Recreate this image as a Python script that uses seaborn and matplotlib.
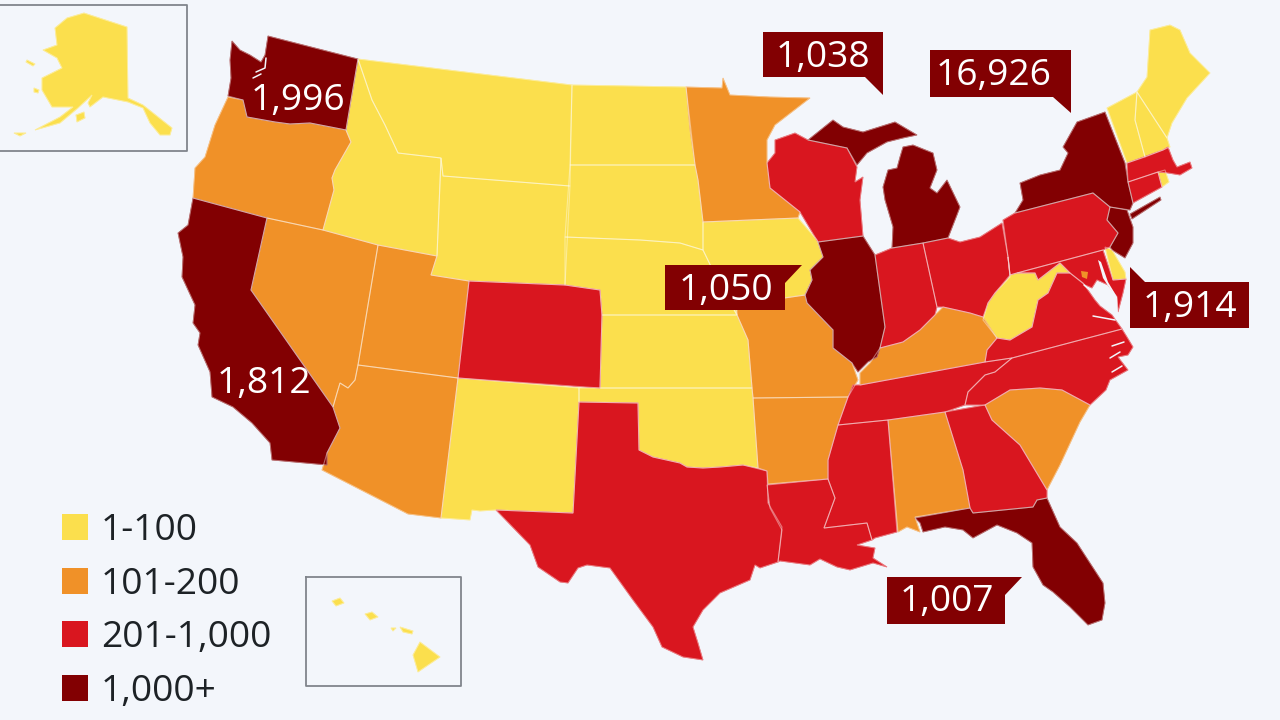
import matplotlib
matplotlib.use('Agg')
import matplotlib.pyplot as plt
import pandas as pd
import seaborn as sns

# state outlines in image pixels (x, y)
wa = [(232,41),(240,50),(250,55),(261,62),(265,55),(268,36),(358,59),(346,130),(310,123),(290,124),(275,122),(247,117),(243,100),(228,96),(231,78),(230,60)]
or_ = [(228,97),(243,100),(247,117),(275,122),(290,124),(310,123),(346,130),(351,142),(335,170),(332,178),(334,190),(323,230),(267,218),(193,198),(195,168),(205,157),(215,125)]
ca = [(193,198),(267,218),(251,290),(333,407),(340,428),(327,453),(327,465),(272,460),(270,443),(252,423),(233,407),(212,397),(210,372),(198,345),(200,333),(193,323),(195,305),(182,277),(183,257),(178,233),(188,225)]
nv = [(267,218),(323,230),(378,245),(358,365),(355,380),(348,388),(340,383),(337,393),(333,407),(251,290)]
id_ = [(358,59),(372,100),(385,125),(398,153),(441,158),(437,256),(378,245),(323,230),(334,190),(332,178),(335,170),(351,142),(346,130)]
mt = [(358,59),(572,85),(570,186),(443,176),(441,158),(398,153),(385,125),(372,100)]
wy = [(443,176),(570,186),(565,285),(469,281),(431,275),(437,256),(441,158)]
ut = [(378,245),(437,256),(431,275),(469,281),(458,378),(358,365)]
co = [(469,281),(565,285),(600,290),(602,315),(600,388),(458,378)]
az = [(358,365),(458,378),(441,518),(408,514),(322,470),(327,453),(340,428),(333,407),(337,393),(340,383),(348,388),(355,380)]
nm = [(458,378),(579,388),(579,402),(573,513),(496,510),(480,511),(472,510),(470,520),(441,518)]
nd = [(572,85),(686,87),(695,165),(570,165)]
sd = [(570,165),(695,165),(698,180),(703,222),(703,250),(680,243),(640,240),(565,237)]
ne = [(565,237),(640,240),(680,243),(703,250),(720,285),(737,315),(602,315),(600,290),(565,285)]
ks = [(602,315),(737,315),(748,340),(752,388),(600,388)]
ok = [(579,388),(752,388),(753,398),(758,468),(743,465),(720,467),(703,468),(687,467),(680,463),(653,457),(639,450),(638,403),(579,402)]
tx = [(579,402),(638,403),(639,450),(653,457),(680,463),(687,467),(703,468),(720,467),(743,465),(767,471),(768,503),(782,527),(778,562),(760,568),(755,565),(750,580),(720,593),(703,610),(693,627),(698,643),(703,660),(683,657),(662,647),(653,627),(633,600),(610,568),(587,565),(578,568),(568,583),(560,582),(538,567),(530,545),(496,510),(573,513)]
mn = [(686,87),(722,88),(723,78),(730,95),(770,97),(810,98),(775,125),(767,140),(767,163),(770,188),(800,212),(798,218),(703,222),(698,180),(695,165),(690,130)]
ia = [(703,222),(798,218),(817,240),(823,257),(810,270),(812,280),(805,295),(735,305),(737,315),(720,285),(703,250)]
mo = [(737,305),(805,295),(807,303),(833,330),(833,348),(852,363),(858,380),(848,397),(753,398),(752,388),(748,340),(737,315)]
ar = [(753,398),(848,397),(838,425),(828,460),(828,479),(768,484),(767,471),(758,468)]
la = [(767,485),(828,479),(835,498),(824,528),(867,523),(872,540),(857,545),(875,548),(873,558),(887,567),(873,563),(850,570),(837,567),(820,559),(810,565),(780,561),(778,562),(782,530),(770,508)]
ms = [(838,425),(888,420),(897,532),(875,538),(872,540),(867,523),(824,528),(835,498),(828,479),(828,460)]
al = [(888,420),(945,412),(963,470),(970,508),(915,517),(920,532),(907,527),(898,532)]
tn = [(853,385),(860,385),(985,362),(1012,358),(995,372),(985,375),(968,392),(965,405),(945,412),(888,420),(838,425),(848,397)]
ky = [(880,348),(903,342),(920,330),(935,315),(943,307),(970,313),(983,317),(997,338),(987,350),(985,362),(860,385),(860,373),(870,363)]
il = [(818,242),(863,236),(875,255),(885,327),(880,348),(877,357),(868,362),(858,372),(852,363),(833,348),(833,330),(807,303),(805,295),(812,280),(810,270),(823,257)]
in_ = [(875,255),(892,248),(923,243),(937,307),(935,315),(920,330),(903,342),(880,348),(885,327)]
oh = [(923,243),(948,238),(960,242),(980,237),(1002,223),(1008,257),(1010,275),(995,293),(988,303),(983,317),(970,313),(943,307),(937,307)]
wi = [(775,140),(795,133),(808,140),(847,148),(857,167),(855,182),(863,177),(860,200),(863,236),(818,242),(800,212),(770,188),(767,163),(775,153)]
mi_upper = [(808,140),(833,120),(843,127),(863,132),(895,122),(917,135),(903,138),(887,142),(867,153),(857,165),(847,148)]
mi_lower = [(903,147),(913,145),(933,153),(937,170),(930,188),(937,193),(947,180),(960,207),(957,215),(948,238),(923,243),(892,248),(893,227),(885,200),(883,187),(888,170),(897,168),(900,157)]
pa = [(1003,220),(1015,213),(1093,193),(1110,207),(1107,220),(1118,233),(1110,247),(1103,250),(1017,273),(1010,275),(1008,257)]
ny = [(1015,213),(1023,200),(1020,183),(1040,175),(1060,170),(1068,153),(1063,147),(1077,122),(1105,112),(1125,163),(1128,182),(1133,203),(1130,210),(1110,207),(1093,193)]
long_island = [(1130,214),(1160,197),(1161,200),(1132,219)]
nj = [(1110,207),(1127,210),(1133,227),(1133,243),(1125,258),(1112,250),(1110,247),(1118,233),(1107,220)]
de = [(1105,247),(1112,250),(1125,272),(1126,279),(1113,280)]
md = [(1017,273),(1103,250),(1113,280),(1126,279),(1123,293),(1118,312),(1117,297),(1108,285),(1097,280),(1092,288),(1085,285),(1070,273),(1060,263),(1038,280),(1035,273)]
dc = [(1081,271),(1088,272),(1087,279),(1082,277)]
wv = [(1008,257),(1010,275),(1017,273),(1035,273),(1038,280),(1060,263),(1070,273),(1057,273),(1048,293),(1038,300),(1032,327),(1010,340),(997,338),(983,320),(988,303),(995,293),(1010,277)]
va = [(985,362),(987,350),(997,338),(1010,340),(1032,327),(1038,300),(1048,293),(1057,273),(1070,273),(1083,283),(1095,300),(1100,306),(1112,315),(1122,329),(1012,358)]
nc = [(1012,358),(1122,329),(1127,337),(1133,347),(1128,355),(1118,357),(1128,370),(1110,380),(1106,390),(1090,405),(1062,390),(1040,388),(1010,390),(985,405),(965,405),(968,392),(985,375),(995,372)]
sc = [(985,405),(1010,390),(1040,388),(1062,390),(1090,405),(1080,422),(1060,465),(1047,490),(1020,445),(992,420)]
ga = [(945,412),(985,405),(992,420),(1020,445),(1047,490),(1047,498),(1037,500),(1033,507),(973,513),(970,508),(963,470)]
fl = [(915,518),(970,508),(973,513),(1033,507),(1037,500),(1047,498),(1060,527),(1077,543),(1103,583),(1105,603),(1102,620),(1088,625),(1070,607),(1053,592),(1043,585),(1033,567),(1032,543),(1017,533),(997,525),(973,538),(963,530),(945,527),(923,532),(920,523)]
me = [(1150,30),(1170,25),(1180,30),(1190,53),(1210,73),(1187,98),(1172,123),(1167,138),(1137,92),(1147,77)]
nh = [(1137,92),(1167,138),(1170,147),(1163,150),(1145,157),(1135,120)]
vt = [(1107,108),(1137,92),(1135,120),(1145,157),(1127,163)]
ma = [(1127,163),(1163,150),(1168,147),(1173,160),(1177,167),(1190,162),(1192,168),(1180,175),(1168,173),(1158,172),(1128,182)]
ct = [(1128,182),(1158,172),(1162,187),(1133,203)]
ri = [(1158,172),(1165,170),(1169,182),(1162,187)]
ak = [(84,13),(127,27),(128,98),(143,105),(172,128),(170,135),(160,135),(150,123),(143,108),(128,102),(103,97),(90,107),(88,103),(92,95),(78,108),(60,123),(35,130),(60,117),(73,107),(52,107),(42,90),(42,78),(62,68),(57,58),(43,50),(57,45),(55,28),(67,18)]
ak_islands = [[(27,60),(35,64),(33,66),(26,62)],[(34,88),(39,90),(38,93),(34,92)],[(76,115),(84,112),(85,118),(77,122)],[(14,133),(26,133),(20,136)]]
hi = [[(413,655),(420,642),(440,657),(418,672)],[(400,627),(413,631),(412,634),(403,632)],[(365,614),(372,612),(378,617),(370,620)],[(332,601),(340,598),(344,603),(336,606)],[(391,628),(396,628),(393,631)]]

# water cut into the land
bays = [[(1098,260),(1103,278),(1112,292),(1116,312),(1118,314),(1117,297),(1108,282),(1101,262)]]
inlets = [[(1084,285),(1100,298),(1113,312)], [(1093,316),(1115,320)], [(1100,283),(1110,290)],
          [(1112,346),(1124,342)], [(1110,358),(1120,352)], [(1112,372),(1122,366)],
          [(266,58),(265,68),(256,72)], [(253,78),(261,74)]]

# cases per bin and the labels shown on the map
bin_names = ['1-100', '101-200', '201-1,000', '1,000+']
bin_colors = ['#fbdf4d', '#f09128', '#d9161f', '#820002']
low = [id_, mt, wy, nd, sd, ne, ks, ok, nm, ia, wv, de, ri, me, nh, vt, ak] + ak_islands + hi
mid = [or_, nv, ut, az, mn, mo, ar, al, sc, ky]
high = [co, tx, la, ms, tn, nc, va, ga, wi, in_, oh, pa, md, ma, ct]
top = [wa, ca, il, mi_upper, mi_lower, ny, long_island, nj, fl]
plain_labels = ['1,996', '1,812']
box_labels = ['1,038', '16,926', '1,050', '1,914', '1,007']

bg = '#f3f6fb'
sns.set_theme(style='white')
plt.rcParams['font.family'] = ['Open Sans', 'DejaVu Sans']

fig = plt.figure(figsize=(12.8, 7.2), dpi=100, facecolor=bg)
ax = fig.add_axes([0, 0, 1, 1])
ax.set_xlim(0, 1280)
ax.set_ylim(720, 0)
ax.axis('off')

# states, thin light borders between them
palette = sns.color_palette(bin_colors)
for states, col in zip([low, mid, high, top], palette):
    for s in states:
        xs, ys = zip(*s)
        ax.fill(xs, ys, facecolor=col, edgecolor=col, lw=0.6, zorder=2)
for states in [low, mid, high, top]:
    for s in states:
        xs, ys = zip(*s)
        ax.fill(xs, ys, facecolor='none', edgecolor='#ffffff', alpha=0.4, lw=0.8, zorder=3)
xs, ys = zip(*dc)
ax.fill(xs, ys, color=palette[1], lw=0, zorder=4)
for b in bays:
    xs, ys = zip(*b)
    ax.fill(xs, ys, color=bg, lw=0, zorder=4)
for line in inlets:
    xs, ys = zip(*line)
    ax.plot(xs, ys, color=bg, lw=1.1, zorder=4)

# inset frames
ax.plot([0, 187, 187, 0], [5, 5, 151, 151], color='#80858c', lw=1.3, zorder=1)
ax.plot([306, 461, 461, 306, 306], [577, 577, 686, 686, 577], color='#80858c', lw=1.3, zorder=1)

# legend
legend_df = pd.DataFrame({'x': [75] * 4, 'y': [527, 581, 634, 688], 'bin': bin_names})
sns.scatterplot(data=legend_df, x='x', y='y', hue='bin', palette=bin_colors, marker='s',
                s=350, linewidth=0, legend=False, ax=ax, zorder=5)
ax.set_xlabel('')
ax.set_ylabel('')
for name, y in zip(bin_names, legend_df['y']):
    ax.text(101, y + 4, name, fontsize=26.7, color='#1d2226', va='center', ha='left', zorder=6)

# callouts
dark = bin_colors[3]
boxes = [[(763,32),(883,32),(883,95),(865,77),(763,77)],
         [(930,50),(1071,50),(1071,113),(1053,97),(930,97)],
         [(665,265),(802,265),(785,283),(785,310),(665,310)],
         [(1130,267),(1145,282),(1249,282),(1249,328),(1130,328)],
         [(887,577),(1022,577),(1005,595),(1005,624),(887,624)]]
box_pos = [(823,58), (994,76), (726,291), (1190,308), (947,602)]
for b, label, pos in zip(boxes, box_labels, box_pos):
    xs, ys = zip(*b)
    ax.fill(xs, ys, color=dark, lw=0, zorder=7)
    ax.text(pos[0], pos[1], label, fontsize=26.7, color='white', ha='center', va='center', zorder=8)
for label, pos in zip(plain_labels, [(298,101), (264,384)]):
    ax.text(pos[0], pos[1], label, fontsize=26.7, color='white', ha='center', va='center', zorder=8)

fig.savefig('out.png', dpi=100, facecolor=bg)
